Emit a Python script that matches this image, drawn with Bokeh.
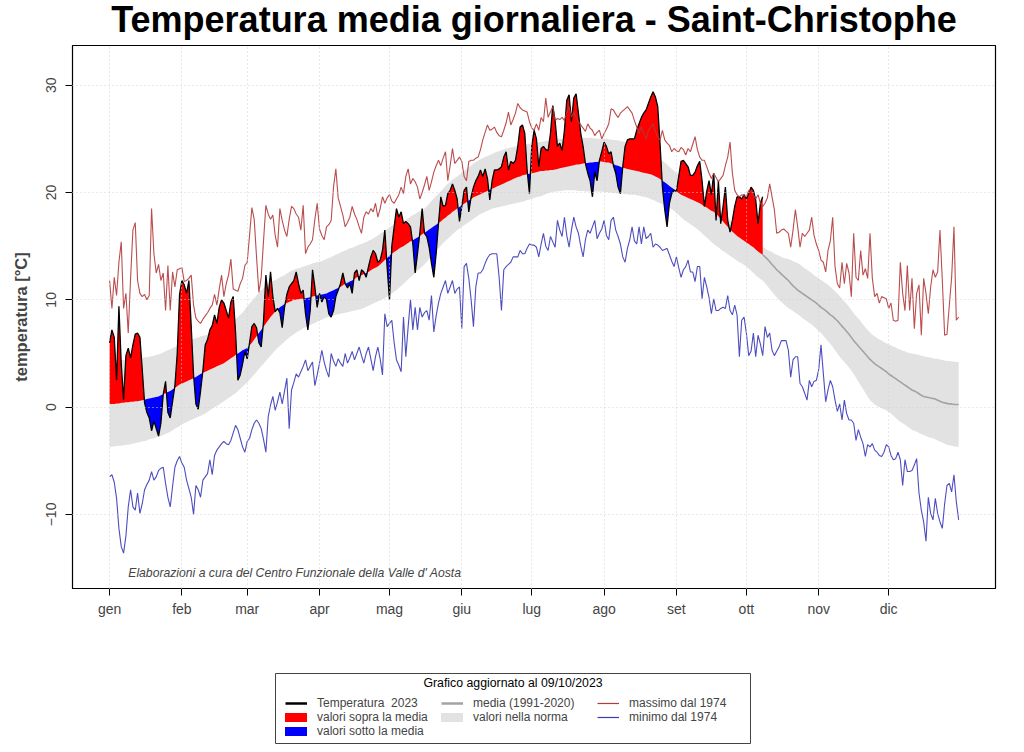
import numpy as np
from bokeh.plotting import figure
from bokeh.layouts import column
from bokeh.models import (FixedTicker, Legend, LegendItem, Label, LinearAxis, Range1d, Grid)
from bokeh.embed import file_html
from bokeh.resources import INLINE

FONT = "Liberation Sans"
W = 1016

month_starts = [1, 32, 60, 91, 121, 152, 182, 213, 244, 274, 305, 335]
month_labels = ["gen", "feb", "mar", "apr", "mag", "giu", "lug", "ago", "set", "ott", "nov", "dic"]
y_ticks = [-10, 0, 10, 20, 30]

media = [
0.3,0.3,0.3,0.35,0.35,0.4,0.4,0.45,0.45,0.5,
0.5,0.55,0.55,0.6,0.65,0.7,0.75,0.8,0.85,0.9,
0.95,1.0,1.1,1.2,1.3,1.4,1.5,1.65,1.8,1.95,
2.1,2.2,2.3,2.4,2.5,2.6,2.7,2.8,2.95,3.1,
3.2,3.3,3.4,3.5,3.6,3.7,3.8,3.9,4.0,4.1,
4.25,4.4,4.55,4.7,4.85,5.0,5.15,5.3,5.4,5.5,
5.75,6.0,6.3,6.6,6.9,7.2,7.5,7.8,8.1,8.4,
8.65,8.9,9.1,9.3,9.45,9.6,9.7,9.8,9.9,10.0,
10.0,10.05,10.1,10.1,10.15,10.2,10.25,10.3,10.35,10.4,
10.45,10.5,10.55,10.6,10.7,10.8,10.9,11.0,11.1,11.2,
11.35,11.5,11.6,11.7,11.8,11.95,12.1,12.2,12.3,12.4,
12.5,12.6,12.75,12.9,13.0,13.1,13.3,13.5,13.7,13.9,
14.1,14.3,14.45,14.6,14.75,14.9,15.0,15.15,15.3,15.45,
15.55,15.7,15.8,15.95,16.1,16.25,16.4,16.55,16.7,16.85,
17.0,17.15,17.3,17.5,17.65,17.85,18.0,18.2,18.35,18.5,
18.65,18.8,18.95,19.1,19.25,19.4,19.55,19.65,19.75,19.85,
19.95,20.05,20.15,20.25,20.35,20.45,20.55,20.65,20.75,20.85,
20.95,21.05,21.15,21.25,21.35,21.45,21.5,21.6,21.65,21.7,
21.75,21.8,21.85,21.9,21.95,22.0,22.0,22.05,22.05,22.1,
22.1,22.15,22.2,22.25,22.3,22.35,22.4,22.45,22.5,22.55,
22.6,22.6,22.65,22.7,22.75,22.75,22.8,22.8,22.85,22.85,
22.9,22.9,22.85,22.8,22.8,22.7,22.65,22.55,22.5,22.4,
22.3,22.25,22.2,22.15,22.1,22.05,22.0,21.95,21.9,21.85,
21.8,21.75,21.7,21.6,21.5,21.4,21.25,21.1,20.95,20.8,
20.6,20.45,20.3,20.1,19.95,19.8,19.7,19.6,19.5,19.4,
19.3,19.2,19.1,19.0,18.85,18.7,18.6,18.45,18.3,18.2,
18.0,17.8,17.55,17.3,17.05,16.8,16.55,16.35,16.15,15.95,
15.8,15.65,15.5,15.35,15.2,15.05,14.9,14.7,14.5,14.35,
14.2,14.0,13.8,13.55,13.3,13.05,12.8,12.6,12.4,12.2,
12.0,11.8,11.55,11.3,11.1,10.9,10.75,10.6,10.45,10.3,
10.15,10.0,9.85,9.7,9.5,9.3,9.15,9.0,8.8,8.6,
8.45,8.25,8.05,7.8,7.55,7.3,7.05,6.8,6.5,6.2,
5.95,5.7,5.45,5.2,4.95,4.7,4.45,4.25,4.05,3.9,
3.75,3.6,3.45,3.3,3.1,2.95,2.8,2.65,2.5,2.35,
2.2,2.05,1.9,1.75,1.6,1.5,1.4,1.25,1.1,1.0,
0.95,0.9,0.85,0.8,0.75,0.65,0.55,0.45,0.4,0.35,
0.3,0.3,0.25,0.25,0.25]

norma_sup = [
4.3,4.3,4.35,4.35,4.4,4.4,4.4,4.45,4.45,4.5,
4.5,4.5,4.55,4.6,4.6,4.65,4.65,4.7,4.75,4.8,
4.85,4.9,5.0,5.1,5.2,5.3,5.4,5.5,5.6,5.7,
5.8,5.9,6.0,6.1,6.2,6.3,6.35,6.45,6.5,6.6,
6.65,6.7,6.75,6.8,6.9,6.95,7.0,7.1,7.2,7.3,
7.45,7.6,7.8,8.0,8.2,8.4,8.6,8.8,9.1,9.4,
9.65,9.9,10.15,10.4,10.65,10.9,11.1,11.3,11.45,11.6,
11.75,11.85,11.95,12.1,12.2,12.3,12.45,12.6,12.7,12.8,
12.9,12.95,13.0,13.1,13.15,13.25,13.3,13.4,13.45,13.5,
13.55,13.6,13.7,13.8,13.9,14.0,14.1,14.2,14.3,14.4,
14.5,14.6,14.7,14.8,14.85,14.95,15.05,15.15,15.2,15.3,
15.4,15.5,15.6,15.75,15.85,16.0,16.15,16.3,16.45,16.6,
16.75,16.9,17.0,17.1,17.2,17.3,17.35,17.45,17.6,17.75,
17.9,18.0,18.15,18.25,18.35,18.5,18.7,18.95,19.2,19.45,
19.65,19.9,20.1,20.35,20.6,20.8,21.0,21.2,21.35,21.5,
21.65,21.85,22.0,22.2,22.35,22.5,22.7,22.85,22.95,23.1,
23.2,23.3,23.4,23.5,23.6,23.7,23.8,23.85,23.95,24.0,
24.1,24.15,24.2,24.25,24.3,24.35,24.4,24.45,24.5,24.5,
24.55,24.6,24.6,24.65,24.7,24.7,24.75,24.8,24.85,24.9,
24.9,24.95,24.95,25.0,25.0,25.05,25.1,25.1,25.1,25.1,
25.1,25.15,25.15,25.1,25.1,25.1,25.1,25.05,25.05,25.0,
25.0,25.0,25.0,25.0,24.95,24.95,24.9,24.9,24.85,24.8,
24.75,24.7,24.65,24.6,24.5,24.4,24.3,24.2,24.1,24.0,
23.9,23.8,23.7,23.55,23.4,23.25,23.1,22.95,22.8,22.6,
22.4,22.2,22.0,21.85,21.65,21.45,21.3,21.1,20.9,20.75,
20.55,20.4,20.2,20.05,19.85,19.65,19.45,19.25,19.05,18.85,
18.65,18.45,18.25,18.05,17.85,17.65,17.45,17.25,17.05,16.85,
16.65,16.45,16.25,16.05,15.85,15.65,15.45,15.3,15.15,15.0,
14.9,14.8,14.65,14.55,14.45,14.3,14.2,14.1,14.0,13.9,
13.85,13.8,13.7,13.6,13.5,13.4,13.3,13.1,12.95,12.8,
12.65,12.5,12.3,12.15,12.0,11.85,11.7,11.55,11.4,11.2,
11.0,10.8,10.6,10.35,10.1,9.85,9.6,9.35,9.05,8.75,
8.5,8.25,8.0,7.7,7.45,7.2,6.95,6.75,6.6,6.45,
6.3,6.2,6.05,5.95,5.85,5.75,5.65,5.55,5.45,5.35,
5.25,5.2,5.1,5.05,5.0,4.95,4.9,4.85,4.8,4.75,
4.7,4.65,4.6,4.55,4.5,4.5,4.45,4.4,4.35,4.3,
4.3,4.25,4.25,4.2,4.2]

norma_inf = [
-3.7,-3.7,-3.65,-3.65,-3.6,-3.6,-3.55,-3.5,-3.5,-3.45,
-3.4,-3.35,-3.3,-3.25,-3.2,-3.15,-3.1,-3.0,-2.95,-2.9,
-2.8,-2.75,-2.7,-2.6,-2.5,-2.4,-2.3,-2.15,-2.0,-1.9,
-1.75,-1.6,-1.5,-1.4,-1.3,-1.2,-1.1,-1.0,-0.9,-0.8,
-0.7,-0.6,-0.45,-0.3,-0.15,0.0,0.1,0.25,0.4,0.55,
0.7,0.85,1.0,1.15,1.3,1.5,1.7,1.9,2.1,2.3,
2.55,2.8,3.05,3.3,3.55,3.8,4.05,4.3,4.55,4.8,
5.05,5.3,5.5,5.7,5.9,6.1,6.3,6.5,6.65,6.8,
6.95,7.1,7.2,7.35,7.45,7.55,7.65,7.75,7.85,7.95,
8.05,8.15,8.25,8.35,8.4,8.5,8.55,8.6,8.65,8.7,
8.75,8.8,8.85,8.9,8.95,9.0,9.05,9.1,9.15,9.25,
9.35,9.45,9.55,9.65,9.75,9.85,9.95,10.05,10.15,10.3,
10.45,10.6,10.75,10.9,11.1,11.3,11.5,11.7,11.9,12.1,
12.3,12.5,12.7,12.9,13.1,13.3,13.55,13.8,14.05,14.3,
14.55,14.8,15.05,15.3,15.5,15.7,15.9,16.1,16.3,16.5,
16.65,16.8,16.95,17.1,17.25,17.4,17.55,17.7,17.85,18.0,
18.1,18.2,18.3,18.4,18.5,18.55,18.6,18.65,18.7,18.75,
18.8,18.85,18.9,18.95,19.0,19.05,19.1,19.15,19.2,19.3,
19.35,19.4,19.5,19.55,19.6,19.65,19.75,19.85,19.95,20.0,
20.05,20.1,20.1,20.15,20.15,20.2,20.2,20.2,20.2,20.2,
20.2,20.15,20.15,20.15,20.1,20.1,20.1,20.1,20.1,20.1,
20.1,20.1,20.05,20.05,20.0,20.0,19.95,19.95,19.9,19.9,
19.9,19.85,19.85,19.8,19.8,19.8,19.75,19.7,19.65,19.6,
19.55,19.5,19.4,19.3,19.2,19.1,19.0,18.9,18.8,18.7,
18.6,18.45,18.3,18.1,17.9,17.7,17.5,17.35,17.2,17.05,
16.9,16.75,16.6,16.4,16.2,16.0,15.8,15.6,15.4,15.2,
15.05,14.9,14.7,14.55,14.4,14.25,14.1,13.95,13.8,13.65,
13.5,13.4,13.25,13.1,12.9,12.7,12.5,12.3,12.1,11.95,
11.8,11.55,11.3,11.0,10.75,10.5,10.25,10.0,9.8,9.6,
9.4,9.25,9.1,8.95,8.8,8.65,8.5,8.3,8.15,8.0,
7.85,7.7,7.5,7.3,7.1,6.9,6.65,6.4,6.15,5.9,
5.6,5.3,5.0,4.7,4.45,4.2,3.95,3.7,3.4,3.1,
2.75,2.4,2.05,1.7,1.35,1.0,0.65,0.45,0.25,0.1,
0.0,-0.1,-0.2,-0.3,-0.45,-0.6,-0.8,-1.0,-1.2,-1.35,
-1.5,-1.65,-1.8,-1.95,-2.1,-2.2,-2.3,-2.4,-2.5,-2.6,
-2.7,-2.8,-2.85,-2.9,-3.0,-3.1,-3.2,-3.3,-3.4,-3.5,
-3.55,-3.6,-3.65,-3.7,-3.7]

massimo = [
11.8,9.2,12.1,10.4,13.5,15.4,9.2,10.6,6.9,12.0,
16.5,17.2,11.8,10.6,10.3,10.5,10.0,10.4,18.5,14.3,
12.5,13.3,11.8,12.5,9.0,13.2,9.0,12.6,11.2,12.8,
12.9,13.0,11.7,11.8,12.0,12.3,9.5,8.3,8.0,7.8,
8.2,8.5,8.8,9.2,9.5,10.5,9.5,11.0,12.3,10.3,
11.5,12.3,13.8,11.0,10.9,10.8,11.5,12.0,13.2,13.5,
16.0,18.6,17.5,14.0,10.7,12.1,15.5,18.8,18.0,17.5,
17.9,16.0,14.9,18.5,17.4,16.5,15.9,17.5,18.7,18.5,
18.0,17.7,16.5,18.8,14.3,14.9,15.2,15.6,17.5,19.0,
16.6,16.0,15.6,16.8,17.0,17.4,20.5,22.2,19.5,18.7,
17.9,16.8,17.2,17.7,18.7,18.0,17.5,16.8,16.2,17.7,
18.2,18.0,18.5,18.2,19.0,17.7,18.5,19.6,19.0,19.5,
19.8,19.2,19.0,19.4,19.8,20.5,19.9,21.5,22.2,20.8,
21.3,21.0,20.5,19.4,20.0,20.7,21.5,20.2,21.0,21.9,
22.5,23.0,22.5,23.2,23.8,21.1,22.5,24.1,22.7,23.0,
23.3,22.9,21.5,21.1,22.9,23.0,23.0,23.2,23.3,24.0,
24.9,25.6,26.3,25.8,25.9,26.1,25.6,25.3,25.2,25.8,
26.5,27.5,26.3,26.8,27.4,28.3,27.9,27.7,27.6,27.5,
26.6,26.0,25.8,26.4,25.8,27.0,26.6,28.8,27.0,27.5,
28.0,26.7,26.9,26.8,27.0,26.7,27.5,28.0,27.0,27.5,
27.0,26.6,26.3,26.0,25.7,26.4,26.0,25.8,25.3,25.6,
25.8,25.0,25.5,25.9,26.4,27.8,27.7,27.3,27.0,27.4,
27.6,27.8,28.0,27.7,27.4,26.7,26.1,25.5,26.1,25.5,
25.0,25.8,26.1,26.4,25.7,25.2,24.9,25.8,24.9,24.6,
24.4,23.8,24.1,23.9,23.8,24.2,24.0,23.5,24.1,23.8,
24.5,25.2,24.0,23.3,23.0,23.0,22.4,21.8,21.3,21.8,
21.4,21.0,21.3,21.6,22.5,23.3,24.7,21.8,20.2,19.8,
19.6,19.8,19.7,19.6,20.2,20.1,19.8,19.4,19.8,19.0,
18.7,19.0,19.5,20.8,19.6,18.4,16.2,16.3,16.5,16.6,
16.4,16.2,14.9,16.5,18.4,16.8,14.9,16.2,15.9,16.2,
16.5,17.7,16.0,15.2,14.6,13.7,13.5,12.6,14.6,15.5,
17.7,13.1,11.5,11.1,13.5,11.5,13.4,12.5,10.3,16.2,
12.1,11.8,14.6,12.3,12.9,12.0,16.2,12.0,10.3,10.6,
9.7,10.3,10.2,10.1,9.2,9.7,8.1,8.0,8.1,13.5,
10.6,9.0,13.2,9.0,12.0,7.3,10.6,11.4,6.7,12.0,
10.6,8.7,11.2,12.8,12.1,12.6,16.5,11.8,6.7,6.8,
9.5,12.1,16.8,8.1,8.4]

minimo = [
-6.5,-6.3,-7.0,-8.5,-11.3,-13.0,-13.6,-12.0,-9.3,-7.7,
-9.3,-9.6,-8.0,-9.9,-9.0,-7.7,-7.2,-6.8,-6.0,-6.8,
-6.5,-5.9,-5.7,-5.6,-7.1,-8.4,-9.3,-7.4,-5.6,-5.0,
-4.6,-5.2,-5.6,-6.8,-7.6,-8.4,-10.0,-7.3,-7.7,-8.4,
-6.8,-6.5,-6.2,-4.9,-6.3,-4.5,-4.0,-3.7,-3.4,-3.2,
-3.4,-3.5,-3.1,-2.4,-1.7,-2.1,-2.9,-3.7,-4.2,-3.2,
-2.9,-2.1,-1.5,-1.2,-1.5,-2.0,-3.0,-4.2,-0.9,0.2,
1.0,-0.3,0.5,1.4,0.3,1.5,2.7,-2.0,1.6,2.3,
3.1,2.8,3.3,3.8,4.4,3.4,3.8,4.2,2.0,3.0,
4.1,5.3,4.2,3.4,2.8,5.0,4.3,3.8,4.5,4.1,
3.8,5.0,4.1,4.6,5.2,4.4,5.0,5.6,4.8,4.1,
5.0,5.6,4.5,3.4,4.7,5.6,4.5,3.0,8.7,7.5,
7.8,8.1,6.0,4.4,3.9,3.3,8.4,4.7,7.5,10.0,
7.2,9.3,7.2,9.3,8.4,8.8,9.0,8.1,10.4,7.0,
8.5,9.7,10.6,11.2,11.8,10.6,11.2,11.8,10.6,11.0,
11.2,7.3,13.1,13.4,12.0,10.0,7.5,11.2,12.5,12.5,
12.8,13.4,13.9,14.2,14.3,14.3,14.3,12.1,9.0,12.8,
13.1,13.3,13.5,14.0,14.0,14.0,14.6,14.3,14.3,14.8,
15.2,15.1,15.1,14.9,14.0,15.2,16.2,15.0,14.6,15.9,
15.4,14.9,17.4,16.5,15.9,17.7,16.0,14.9,16.5,17.7,
16.8,16.2,15.0,14.0,15.6,16.5,16.2,16.8,17.4,15.7,
16.2,16.6,17.4,16.0,15.6,17.4,17.7,16.5,15.9,15.2,
14.0,13.5,14.8,15.6,16.8,15.5,15.2,16.8,15.2,16.8,
15.7,15.9,16.2,14.9,15.2,15.1,14.9,14.6,14.7,14.8,
14.2,13.6,13.1,14.0,13.0,12.1,12.8,13.1,13.7,12.6,
12.6,11.7,13.1,13.1,10.1,12.1,11.2,10.2,8.7,10.1,
9.0,9.0,9.2,9.3,9.2,10.4,9.0,8.6,9.5,8.6,
4.7,8.1,8.4,6.9,4.8,5.2,6.9,4.7,6.7,5.9,
4.8,7.5,6.5,6.9,5.3,4.8,5.2,5.6,6.2,6.2,
6.2,5.3,2.8,4.4,4.7,4.7,2.2,1.9,1.3,0.65,
2.5,1.9,2.4,2.5,3.5,5.8,3.1,0.5,1.6,2.5,
1.9,0.65,-0.4,0.3,-1.2,0.65,-0.6,-1.2,-1.2,-1.5,
-3.1,-2.1,-2.8,-3.4,-4.6,-3.5,-3.7,-3.4,-4.0,-4.2,
-4.5,-4.6,-4.2,-3.5,-3.7,-4.5,-4.9,-4.8,-4.2,-4.9,
-7.3,-4.9,-6.0,-6.0,-5.9,-5.4,-4.8,-8.0,-9.6,-10.7,
-12.5,-8.4,-9.9,-10.5,-8.5,-9.9,-10.7,-11.3,-9.0,-7.3,
-7.1,-7.9,-6.3,-8.8,-10.5]

temp_2023 = [
6.0,7.2,6.5,2.5,9.4,4.0,0.7,4.8,5.5,4.6,
5.8,6.8,6.9,6.5,3.5,0.4,-0.5,-1.0,-2.2,-1.3,
-2.0,-2.7,-1.5,1.2,2.4,-0.5,-1.0,0.5,2.0,5.0,
10.5,11.8,11.4,10.6,11.8,7.5,3.0,0.3,-0.2,1.5,
3.4,5.8,6.3,7.2,7.6,8.6,7.8,9.3,10.0,9.7,
9.0,8.3,9.8,10.3,7.0,2.5,3.0,4.0,5.2,4.5,
6.0,7.5,7.8,7.4,6.0,5.6,8.0,12.3,10.3,12.6,
10.3,8.9,9.2,8.8,7.4,9.3,10.5,11.2,11.5,11.8,
12.6,11.5,10.6,10.9,8.7,7.2,9.0,12.8,11.2,9.3,
10.6,9.8,10.3,10.0,8.7,8.4,9.0,10.3,10.9,11.5,
12.5,11.5,11.1,11.5,10.6,12.5,12.8,11.8,12.8,12.6,
12.1,13.1,14.0,14.6,14.3,13.5,13.7,14.6,16.5,13.0,
10.0,15.0,16.8,18.5,17.7,18.2,17.1,17.3,17.1,16.8,
15.2,12.5,14.3,16.2,18.5,16.2,15.9,14.9,13.4,12.1,
14.3,17.1,19.6,18.7,18.8,19.9,20.2,20.8,20.2,19.4,
17.3,18.7,20.2,20.5,18.2,19.6,20.5,21.1,21.5,22.1,
21.5,22.2,21.3,19.3,21.1,22.1,22.1,22.2,22.4,23.3,
23.8,22.1,22.9,22.7,23.0,24.3,26.1,26.3,25.5,22.1,
19.9,24.3,25.8,25.0,22.4,24.1,24.3,24.0,23.9,25.5,
28.1,26.7,24.3,24.6,23.9,25.8,28.6,29.1,26.6,28.8,
29.2,27.4,25.5,24.3,22.7,21.8,21.1,19.6,21.9,21.1,
23.0,23.8,24.7,24.3,23.6,23.8,22.5,21.8,20.5,19.9,
22.4,24.3,24.9,25.0,25.0,25.0,25.8,26.4,27.0,27.4,
27.7,28.3,28.9,29.4,28.9,28.0,24.5,20.5,18.4,16.8,
19.0,19.9,20.2,20.1,21.5,22.9,23.0,22.7,22.4,21.6,
21.6,21.9,22.5,22.9,21.1,18.7,20.1,21.1,19.8,21.8,
17.4,21.1,17.1,18.7,20.5,17.4,16.3,17.4,18.7,19.6,
19.6,19.4,19.8,19.4,19.9,20.5,20.2,19.3,17.1,19.0,
19.6]

days = np.arange(1, len(media) + 1)
n23 = len(temp_2023)
days23 = np.arange(1, n23 + 1)

# fill polygons between 2023 and the mean, split at crossings
t23 = np.array(temp_2023, dtype=float)
m23 = np.array(media[:n23], dtype=float)
fx, ft, fm = [], [], []
for i in range(n23):
    if i > 0:
        d0 = t23[i - 1] - m23[i - 1]
        d1 = t23[i] - m23[i]
        if d0 * d1 < 0:
            f = d0 / (d0 - d1)
            mc = m23[i - 1] + f * (m23[i] - m23[i - 1])
            fx.append(days23[i - 1] + f)
            ft.append(mc)
            fm.append(mc)
    fx.append(days23[i])
    ft.append(t23[i])
    fm.append(m23[i])
fx = np.array(fx); ft = np.array(ft); fm = np.array(fm)

# page-pixel ranges for the helper strips (their frames align with the main frame: 72..995)
FR_L, FR_R = 72, 995

# ---- title strip ----
pt = figure(width=W, height=44, x_range=Range1d(FR_L, FR_R), y_range=Range1d(0, 44),
            output_backend="svg", toolbar_location=None, x_axis_type=None, y_axis_type=None,
            min_border=0, min_border_left=72, min_border_right=21, outline_line_color=None)
pt.grid.visible = False
pt.add_layout(Label(x=(FR_L + FR_R) / 2, y=25, text="Temperatura media giornaliera - Saint-Christophe",
                    text_align="center", text_baseline="middle", text_font=FONT,
                    text_font_size="36px", text_font_style="bold", text_color="black"))

# ---- main plot ----
p = figure(width=W, height=584,
           x_range=Range1d(-14.9, 380.8), y_range=Range1d(-16.9, 33.7),
           output_backend="svg", toolbar_location=None,
           x_axis_type=None, y_axis_type=None,
           min_border_left=72, min_border_right=21, min_border_top=1, min_border_bottom=40,
           outline_line_color="black", outline_line_width=1.2)
p.background_fill_color = "white"
p.border_fill_color = "white"

xaxis = LinearAxis(ticker=FixedTicker(ticks=month_starts),
                   major_label_overrides={d: l for d, l in zip(month_starts, month_labels)},
                   major_tick_out=7, major_tick_in=0, minor_tick_line_color=None,
                   major_label_standoff=5, major_label_text_font=FONT,
                   major_label_text_font_size="14px", axis_line_color="black")
p.add_layout(xaxis, "below")
yaxis = LinearAxis(ticker=FixedTicker(ticks=y_ticks),
                   major_tick_out=7, major_tick_in=0, minor_tick_line_color=None,
                   major_label_orientation="vertical", major_label_standoff=9,
                   major_label_text_font=FONT, major_label_text_font_size="14px",
                   axis_label="temperatura [°C]", axis_label_text_font=FONT,
                   axis_label_text_font_style="bold", axis_label_text_font_size="16.5px",
                   axis_label_standoff=14, axis_line_color="black")
p.add_layout(yaxis, "left")

band = p.varea(x=days, y1=norma_inf, y2=norma_sup, fill_color="#e2e2e2")
mean_line = p.line(days[n23 - 1:], media[n23 - 1:], line_color="#a3a3a3", line_width=1.6)

red = p.varea(x=fx, y1=fm, y2=np.maximum(ft, fm), fill_color="#ff0000")
blue = p.varea(x=fx, y1=np.minimum(ft, fm), y2=fm, fill_color="#0000ff")
tline = p.line(days23, temp_2023, line_color="black", line_width=1.3)

maxl = p.line(days, massimo, line_color="#b23a3a", line_width=1.1, line_alpha=0.9)
minl = p.line(days, minimo, line_color="#3a3ab8", line_width=1.1, line_alpha=0.9)

for dim, ticks in ((0, month_starts), (1, y_ticks)):
    g = Grid(dimension=dim, ticker=FixedTicker(ticks=ticks), grid_line_color="#d3d3d3",
             grid_line_dash="1 3", grid_line_width=1)
    g.level = "overlay"
    p.add_layout(g)

p.add_layout(Label(x=9, y=-15.5, text="Elaborazioni a cura del Centro Funzionale della Valle d' Aosta",
                   text_font=FONT, text_font_style="italic", text_font_size="12.2px",
                   text_baseline="middle"))

# ---- legend strip (page pixel coordinates: x = page x, y = 748 - page y) ----
LH = 120
pl = figure(width=W, height=LH, x_range=Range1d(FR_L, FR_R), y_range=Range1d(0, LH),
            output_backend="svg", toolbar_location=None, x_axis_type=None, y_axis_type=None,
            min_border=0, min_border_left=72, min_border_right=21, outline_line_color=None)
pl.grid.visible = False
box_l, box_r, box_top, box_bot = 275, 750, 673, 743
page_bottom = 628 + LH
pl.quad(left=[box_l], right=[box_r], top=[page_bottom - box_top], bottom=[page_bottom - box_bot],
        fill_color="white", line_color="#444444", line_width=1)
pl.add_layout(Label(x=(box_l + box_r) / 2, y=page_bottom - 682, text="Grafico aggiornato al 09/10/2023",
                    text_align="center", text_baseline="middle", text_font=FONT,
                    text_font_size="12.3px", text_color="black"))

kx, ky = [FR_L], [0]
lg_t = pl.line(x=kx, y=ky, line_color="black", line_width=2.5)
lg_r = pl.line(x=kx, y=ky, line_color="#ff0000", line_width=9, line_cap="round")
lg_b = pl.line(x=kx, y=ky, line_color="#0000ff", line_width=9, line_cap="round")
lg_m = pl.line(x=kx, y=ky, line_color="#a3a3a3", line_width=2.5)
lg_n = pl.line(x=kx, y=ky, line_color="#e2e2e2", line_width=9, line_cap="round")
lg_x = pl.line(x=kx, y=ky, line_color="#b23a3a", line_width=1.2)
lg_i = pl.line(x=kx, y=ky, line_color="#3a3ab8", line_width=1.2)

legend = Legend(items=[
    LegendItem(label="Temperatura  2023", renderers=[lg_t]),
    LegendItem(label="media (1991-2020)", renderers=[lg_m]),
    LegendItem(label="massimo dal 1974", renderers=[lg_x]),
    LegendItem(label="valori sopra la media", renderers=[lg_r]),
    LegendItem(label="valori nella norma", renderers=[lg_n]),
    LegendItem(label="minimo dal 1974", renderers=[lg_i]),
    LegendItem(label="valori sotto la media", renderers=[lg_b]),
], location=(285 - FR_L, page_bottom - 738), orientation="horizontal", ncols=3,
    label_text_font=FONT, label_text_font_size="12px", label_standoff=10,
    glyph_width=22, glyph_height=12, label_height=12, label_width=124,
    spacing=0, padding=0, margin=0,
    border_line_color=None, background_fill_alpha=0.0)
pl.add_layout(legend)

layout = column(pt, p, pl, spacing=0)
open("out.html", "w").write(file_html(layout, INLINE))
